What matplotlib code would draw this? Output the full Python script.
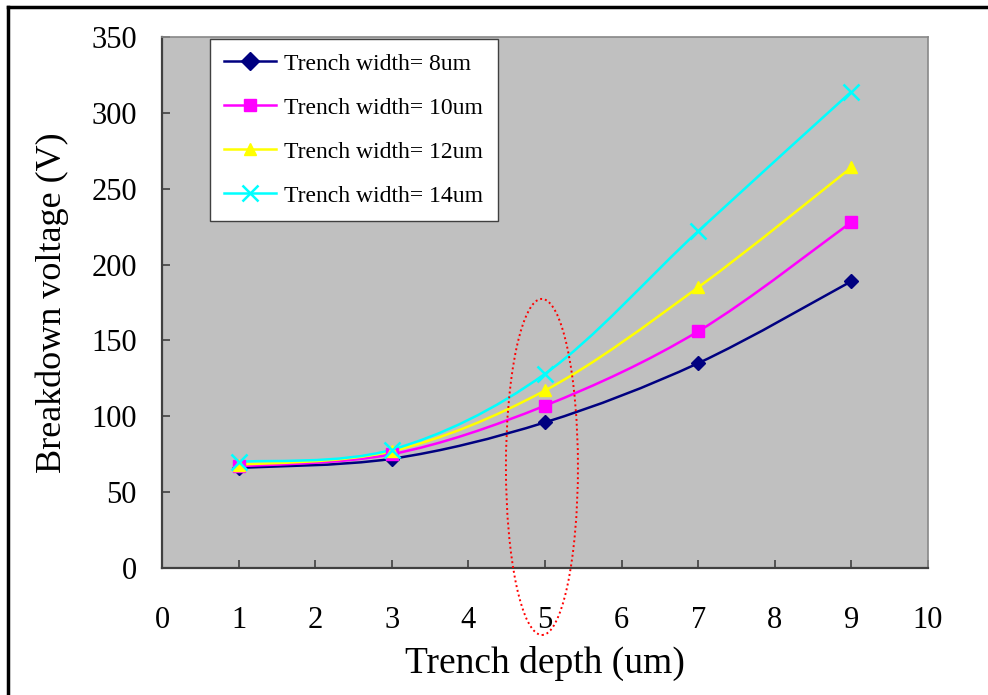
import numpy as np
import matplotlib.pyplot as plt
from matplotlib.path import Path
from matplotlib.patches import PathPatch, Ellipse
from matplotlib.lines import Line2D

depth = [1, 3, 5, 7, 9]
bv_8um = [66, 72, 96, 135, 189]
bv_10um = [67, 75, 107, 156, 228]
bv_12um = [68, 77, 117, 185, 264]
bv_14um = [70, 78, 128, 222, 314]

labels = ['Trench width= 8um', 'Trench width= 10um',
          'Trench width= 12um', 'Trench width= 14um']
colors = ['#000080', '#ff00ff', '#ffff00', '#00ffff']
markers = ['D', 's', '^', 'x']

plt.rcParams['font.family'] = ['Liberation Serif', 'DejaVu Serif']


def smooth_path(x, y):
    # bezier through the points, excel style smoothed line
    pts = np.column_stack([x, y]).astype(float)
    n = len(pts)
    verts = [pts[0]]
    codes = [Path.MOVETO]
    for i in range(n - 1):
        p0 = pts[i - 1] if i > 0 else pts[i]
        p1 = pts[i]
        p2 = pts[i + 1]
        p3 = pts[i + 2] if i + 2 < n else pts[i + 1]
        c1 = p1 + (p2 - p0) / 6
        c2 = p2 - (p3 - p1) / 6
        verts += [c1, c2, p2]
        codes += [Path.CURVE4] * 3
    return Path(verts, codes)


fig = plt.figure(figsize=(9.88, 6.95), dpi=100)
ax = fig.add_axes([162 / 988, 1 - 568 / 695, 766 / 988, 531 / 695])
ax.set_facecolor('#c0c0c0')

series = [bv_8um, bv_10um, bv_12um, bv_14um]
handles = []
for vals, c, m, lab in zip(series, colors, markers, labels):
    ax.add_patch(PathPatch(smooth_path(depth, vals), fill=False,
                           edgecolor=c, lw=1.8, zorder=3))
    if m == 'x':
        ax.plot(depth, vals, ls='none', marker=m, ms=11, mew=1.8,
                color=c, zorder=4)
    else:
        ax.plot(depth, vals, ls='none', marker=m, ms=8 if m != 'D' else 7,
                color=c, mec=c, zorder=4)
    handles.append(Line2D([], [], color=c, lw=1.8, marker=m,
                          ms=11 if m == 'x' else 9, mew=1.8 if m == 'x' else 1,
                          mec=c, label=lab))

# dotted ellipse around depth 5
ax.add_patch(Ellipse((4.96, 66.6), 0.94, 221.5, fill=False, edgecolor='red',
                     ls=(0, (1, 1.5)), lw=1.4, clip_on=False, zorder=5))

ax.set_xlim(0, 10)
ax.set_ylim(0, 350)
ax.set_xticks(range(0, 11))
ax.set_yticks(range(0, 351, 50))
ax.tick_params(direction='in', length=6, width=1.2, color='#404040',
               labelsize=22)
ax.tick_params(axis='y', pad=18)
ax.tick_params(axis='x', pad=27)
for s in ['left', 'bottom']:
    ax.spines[s].set_color('#404040')
    ax.spines[s].set_linewidth(1.6)
for s in ['top', 'right']:
    ax.spines[s].set_color('#888888')
    ax.spines[s].set_linewidth(1.2)

ax.set_xlabel('Trench depth (um)', fontsize=27, labelpad=8)
ax.set_ylabel('Breakdown voltage (V)', fontsize=26, labelpad=16)

leg = ax.legend(handles=handles, loc='upper left',
                bbox_to_anchor=(48 / 766, 1 - 2 / 531), borderaxespad=0,
                fontsize=17, frameon=True, fancybox=False, framealpha=1,
                edgecolor='#404040', borderpad=0.6, labelspacing=0.95,
                handlelength=2.2, handletextpad=0.35)
leg.get_frame().set_linewidth(1.0)

# outer frame
fig.add_artist(Line2D([8 / 988, 1.0], [1 - 7 / 695, 1 - 7 / 695],
                      transform=fig.transFigure, color='black', lw=2.5))
fig.add_artist(Line2D([8 / 988, 8 / 988], [0, 1 - 7 / 695],
                      transform=fig.transFigure, color='black', lw=2.5))

plt.savefig('out.png', dpi=100)
